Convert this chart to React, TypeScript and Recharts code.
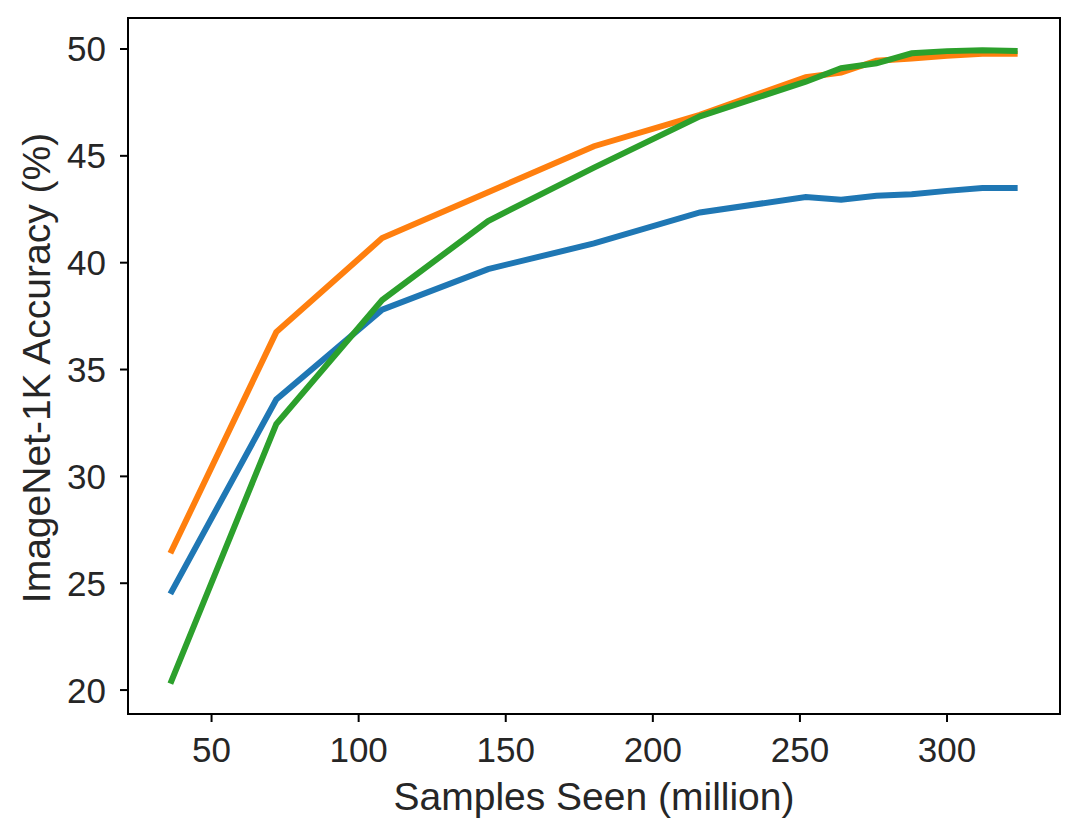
import { LineChart, Line, XAxis, YAxis, ReferenceArea } from 'recharts'

// samples seen (million)
const samples = [36, 72, 108, 144, 180, 216, 252, 264, 276, 288, 300, 312, 324]
const blueAcc = [24.5, 33.6, 37.8, 39.7, 40.9, 42.35, 43.07, 42.95, 43.13, 43.2, 43.36, 43.5, 43.5]
const orangeAcc = [26.4, 36.75, 41.15, 43.3, 45.45, 46.92, 48.68, 48.9, 49.45, 49.56, 49.68, 49.78, 49.78]
const greenAcc = [20.3, 32.45, 38.25, 41.95, 44.45, 46.85, 48.47, 49.1, 49.33, 49.8, 49.9, 49.94, 49.9]

const xTicks = [50, 100, 150, 200, 250, 300]
const yTicks = [20, 25, 30, 35, 40, 45, 50]

const data = samples.map((s, i) => ({
    samples: s,
    blue: blueAcc[i],
    orange: orangeAcc[i],
    green: greenAcc[i]
}))

const xDomain: [number, number] = [21.6, 338.4]
const yDomain: [number, number] = [18.88, 51.45]
const font = 'Liberation Sans, Arial, sans-serif'
const textColor = '#262626'

function XTick({ x, y, payload }: any) {
    return (
        <text x={x} y={y + 38} textAnchor="middle" fontSize={35} fontFamily={font} fill={textColor}>
            {payload.value}
        </text>
    )
}

function YTick({ x, y, payload }: any) {
    return (
        <text x={x - 12} y={y + 12.5} textAnchor="end" fontSize={35} fontFamily={font} fill={textColor}>
            {payload.value}
        </text>
    )
}

export default function App() {
    return (
        <div style={{ position: 'absolute', left: 0, top: 0, background: '#fff' }}>
            <LineChart
                width={1080}
                height={835}
                data={data}
                margin={{ top: 18, right: 20, left: 0, bottom: 0 }}
            >
                <XAxis
                    dataKey="samples"
                    type="number"
                    domain={xDomain}
                    ticks={xTicks}
                    height={121}
                    axisLine={{ stroke: '#000', strokeWidth: 2 }}
                    tickLine={{ stroke: '#000', strokeWidth: 2 }}
                    tickSize={8}
                    tick={<XTick />}
                    allowDataOverflow
                />
                <YAxis
                    type="number"
                    domain={yDomain}
                    ticks={yTicks}
                    width={128}
                    axisLine={{ stroke: '#000', strokeWidth: 2 }}
                    tickLine={{ stroke: '#000', strokeWidth: 2 }}
                    tickSize={8}
                    tick={<YTick />}
                    allowDataOverflow
                />
                <ReferenceArea
                    x1={xDomain[0]}
                    x2={xDomain[1]}
                    y1={yDomain[0]}
                    y2={yDomain[1]}
                    fill="none"
                    stroke="#000"
                    strokeWidth={2}
                    strokeOpacity={1}
                    ifOverflow="visible"
                />
                <Line
                    dataKey="blue"
                    type="linear"
                    stroke="#1f77b4"
                    strokeWidth={6}
                    dot={false}
                    isAnimationActive={false}
                />
                <Line
                    dataKey="orange"
                    type="linear"
                    stroke="#ff7f0e"
                    strokeWidth={6}
                    dot={false}
                    isAnimationActive={false}
                />
                <Line
                    dataKey="green"
                    type="linear"
                    stroke="#2ca02c"
                    strokeWidth={6}
                    dot={false}
                    isAnimationActive={false}
                />
            </LineChart>
            <div
                style={{
                    position: 'absolute',
                    left: 594,
                    top: 797,
                    transform: 'translate(-50%, -50%)',
                    fontSize: 39,
                    fontFamily: font,
                    color: textColor,
                    whiteSpace: 'nowrap'
                }}
            >
                Samples Seen (million)
            </div>
            <div
                style={{
                    position: 'absolute',
                    left: 37,
                    top: 368,
                    transform: 'translate(-50%, -50%) rotate(-90deg)',
                    fontSize: 39,
                    fontFamily: font,
                    color: textColor,
                    whiteSpace: 'nowrap'
                }}
            >
                ImageNet-1K Accuracy (%)
            </div>
        </div>
    )
}
